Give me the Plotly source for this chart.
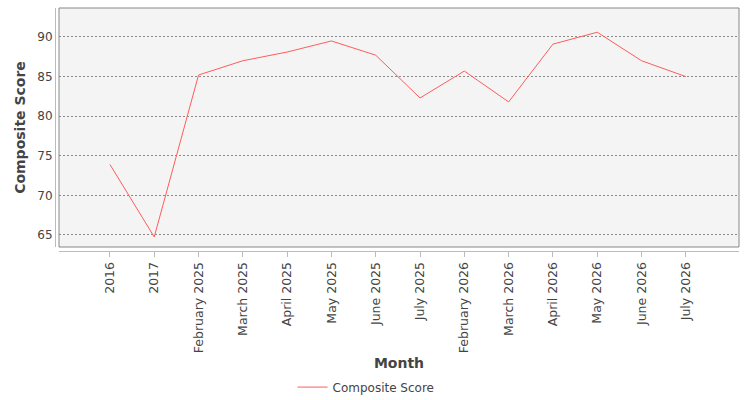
import plotly.graph_objects as go

months = ["2016", "2017", "February 2025", "March 2025", "April 2025", "May 2025",
          "June 2025", "July 2025", "February 2026", "March 2026", "April 2026",
          "May 2026", "June 2026", "July 2026"]
scores = [73.9, 64.75, 85.2, 87.0, 88.1, 89.5, 87.7, 82.3, 85.7, 81.8, 89.1, 90.6, 87.0, 85.0]

y_ticks = [65, 70, 75, 80, 85, 90]

fig = go.Figure()
fig.add_trace(go.Scatter(
    x=months, y=scores, mode="lines", name="Composite Score",
    line=dict(color="#ff5c5c", width=1),
))

font = "DejaVu Sans, Verdana, sans-serif"
fig.update_layout(
    width=750, height=400,
    margin=dict(l=55, r=11, t=8, b=149, autoexpand=False),
    paper_bgcolor="white",
    plot_bgcolor="#f4f4f4",
    font=dict(family=font, size=12, color="#444444"),
    showlegend=True,
    legend=dict(orientation="h", x=0.4547, xanchor="center", y=-0.56, yanchor="middle",
                font=dict(size=12, color="#444444")),
    xaxis=dict(
        type="category", domain=[0.00585, 1], anchor="free", position=0,
        range=[-1.15, 14.2], automargin=False,
        showline=True, linecolor="#bbbbbb", linewidth=1,
        ticks="outside", ticklen=5, tickcolor="#bbbbbb",
        tickangle=-90, showgrid=False, zeroline=False,
        tickfont=dict(size=12.5, color="#444444"),
        title=dict(text="<b>Month</b>", font=dict(size=14, color="#444444"), standoff=6),
    ),
    yaxis=dict(
        domain=[0.01646, 1], anchor="free", position=0,
        range=[63.48, 93.66], automargin=False,
        tickvals=y_ticks,
        showline=True, linecolor="#bbbbbb", linewidth=1,
        ticks="", showgrid=True, gridcolor="#8a8a8a", griddash="2px,2px", gridwidth=1,
        zeroline=False,
        tickfont=dict(size=12, color="#444444"),
        title=dict(text="<b>Composite Score</b>", font=dict(size=14, color="#444444"), standoff=7),
    ),
)

# plot area border
fig.add_shape(type="rect", xref="x domain", yref="y domain", x0=0, x1=1, y0=0, y1=1,
              line=dict(color="#888888", width=1), fillcolor="rgba(0,0,0,0)", layer="above")

fig.write_html("out.html")
